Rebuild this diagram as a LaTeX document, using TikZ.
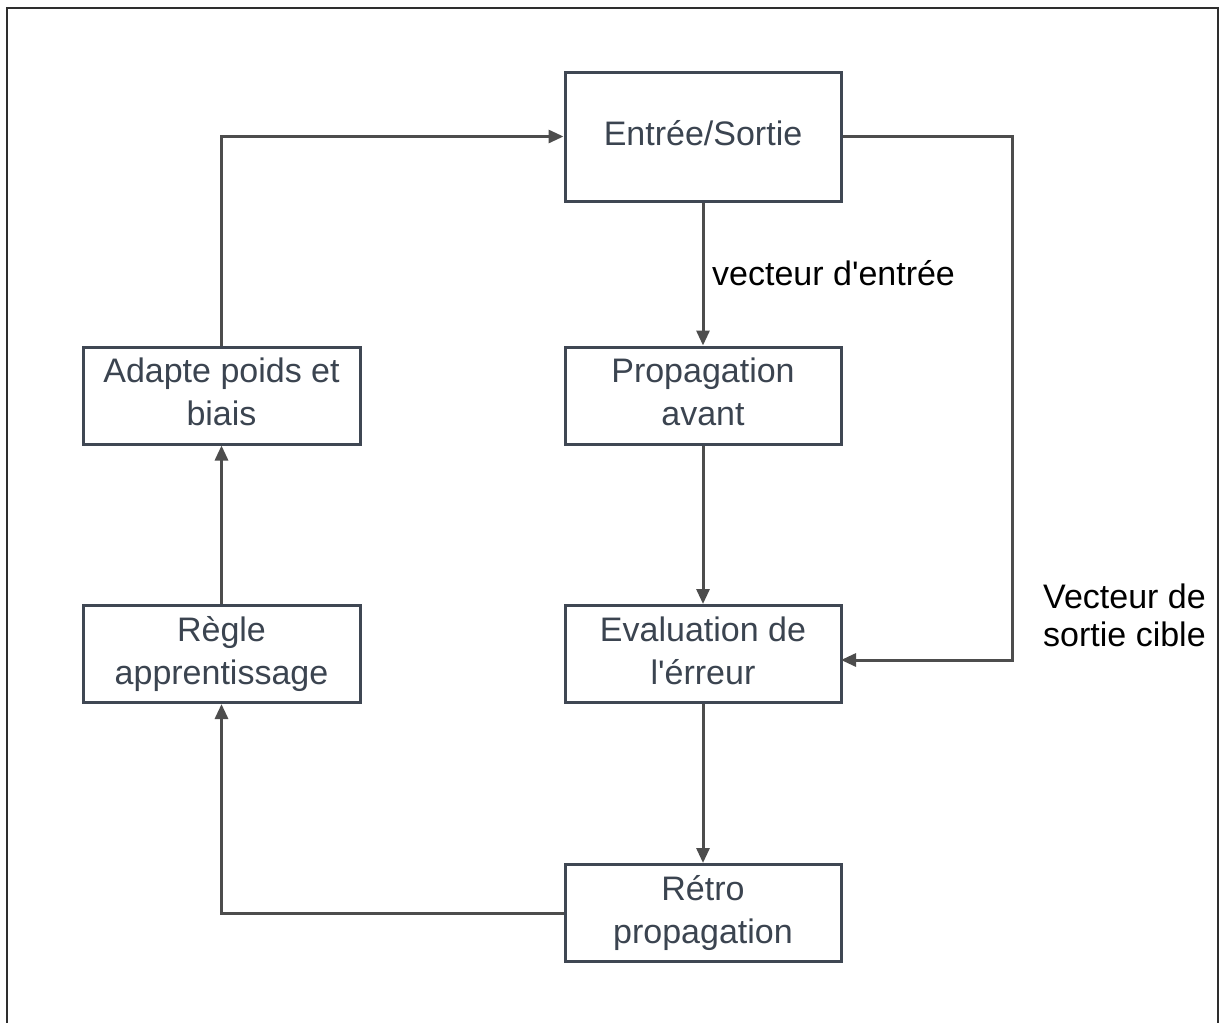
\documentclass[tikz,border=0pt]{standalone}
\usepackage{fontspec}
\setmainfont{Liberation Sans}[Ligatures=TeXOff]
\usetikzlibrary{arrows.meta}
\definecolor{boxline}{HTML}{3F4753}
\definecolor{boxtext}{HTML}{3B4450}
\definecolor{wire}{HTML}{4D4D4D}
\definecolor{frameline}{HTML}{2E2E2E}
\begin{document}
\begin{tikzpicture}[x=1pt,y=-1pt,
  % two-line boxes: fixed text height/depth keep every label on the same baselines
  stepbox/.style={draw=boxline, line width=3pt, fill=white, text=boxtext,
    minimum width=276pt, minimum height=97pt, align=center, inner sep=0pt,
    text height=73pt, text depth=13pt,
    font=\fontsize{34}{43}\selectfont},
  onelinebox/.style={stepbox, text height=30pt},
  wirearrow/.style={draw=wire, line width=3pt,
    -{Triangle[length=15pt,width=13pt]}},
  note/.style={text=black, align=left, inner sep=0pt,
    font=\fontsize{34}{38}\selectfont}]
  \useasboundingbox (0,0) rectangle (1219,1023);
  % outer frame, open at the bottom edge
  \draw[frameline, line width=2.5pt] (7,1023) -- (7,8) -- (1218,8) -- (1218,1023);

  % process boxes
  \node[onelinebox, minimum height=129pt] (io) at (703,136.5) {Entrée/Sortie};
  \node[stepbox] (fwd) at (703,395.5) {Propagation\\avant};
  \node[stepbox] (err) at (703,654) {Evaluation de\\l'érreur};
  \node[stepbox] (back) at (703,913) {Rétro\\propagation};
  \node[stepbox, minimum width=277pt] (adapt) at (221.5,395.5) {Adapte poids et\\biais};
  \node[stepbox, minimum width=277pt] (rule) at (221.5,654) {Règle\\apprentissage};

  % bend points
  \coordinate (tr) at (1012,136.5);
  \coordinate (br) at (1012,660);
  \coordinate (errin) at (841,660);

  % connectors
  \draw[wirearrow] (io.south) -- (fwd.north);
  \draw[wirearrow] (fwd.south) -- (err.north);
  \draw[wirearrow] (err.south) -- (back.north);
  \draw[wirearrow] (back.west) -| (rule.south);
  \draw[wirearrow] (rule.north) -- (adapt.south);
  \draw[wirearrow] (adapt.north) |- (io.west);
  \draw[wirearrow, line join=miter] (io.east) -- (tr) -- (br) -- (errin);

  % labels
  \node[note, anchor=base west] (lin) at (712,285) {vecteur d'entrée};
  \node[note, anchor=north west] (lout) at (1043,584) {Vecteur de\\sortie cible};
\end{tikzpicture}
\end{document}
